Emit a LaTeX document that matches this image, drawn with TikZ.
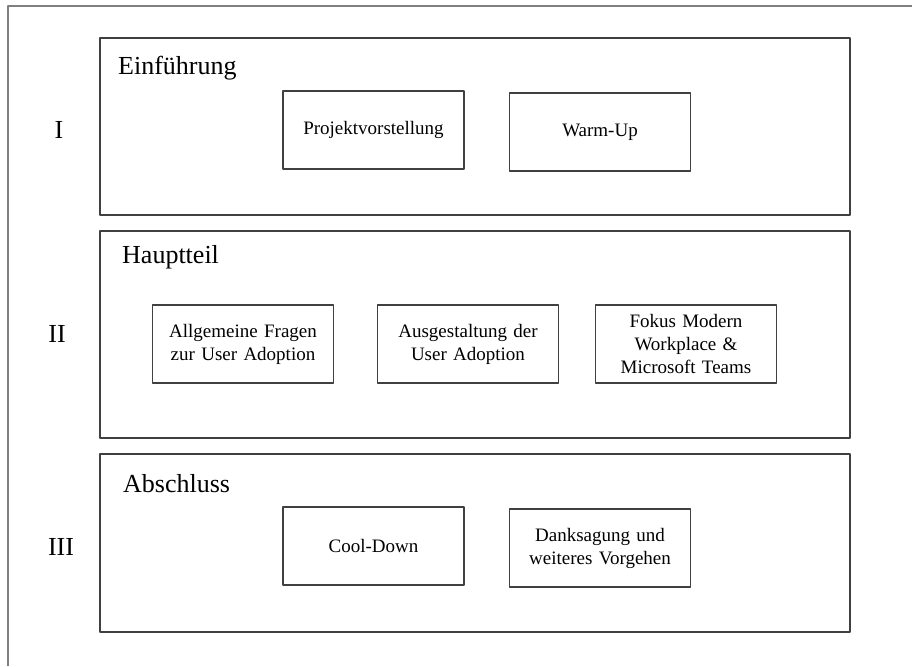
\documentclass[tikz,border=0pt]{standalone}
\usepackage{fontspec}
\setmainfont{Liberation Serif}
\usepackage{tikz}
\usetikzlibrary{positioning}

\begin{document}
\begin{tikzpicture}[x=1pt,y=-1pt,line join=round,
    phase/.style={draw=black!75,line width=1.1pt,minimum width=750pt,inner sep=0pt},
    part/.style={draw=black!75,line width=1.1pt,minimum width=181pt,minimum height=78pt,
      inner sep=0pt,align=center,text width=175pt,font=\fontsize{19}{23}\selectfont},
    title/.style={anchor=base west,inner sep=0pt,font=\fontsize{26}{30}\selectfont},
    numeral/.style={anchor=base,inner sep=0pt,font=\fontsize{26}{30}\selectfont}]
    \useasboundingbox (0,0) rectangle (912,666);
    % outer frame, only top and left are visible
    \draw[color=black!50,line width=2pt] (8,666) -- (8,6) -- (912,6);
    % the three phases
    \node[phase,minimum height=177pt] (einf) at (475,126.5) {};
    \node[phase,minimum height=207pt] (haupt) at (475,334.5) {};
    \node[phase,minimum height=178pt] (absch) at (475,543) {};
    \node[title] (einft) at (118,75) {Einführung};
    \node[title] (hauptt) at (122,263) {Hauptteil};
    \node[title] (abscht) at (123,492) {Abschluss};
    \node[numeral] (numI) at (59,139) {I};
    \node[numeral] (numII) at (57,342) {II};
    \node[numeral] (numIII) at (61,555) {III};
    % I
    \node[part] (projekt) at (373.5,130) {Projektvorstellung};
    \node[part] (warmup) at (600,132) {Warm-Up};
    % II
    \node[part] (fragen) at (243,344) {Allgemeine Fragen\\zur User Adoption};
    \node[part] (ausgest) at (468,344) {Ausgestaltung der\\User Adoption};
    \node[part] (fokus) at (686,344) {Fokus Modern\\Workplace \&\\Microsoft Teams};
    % III
    \node[part] (cooldown) at (373.5,546) {Cool-Down};
    \node[part] (dank) at (600,548) {Danksagung und\\weiteres Vorgehen};
\end{tikzpicture}
\end{document}
